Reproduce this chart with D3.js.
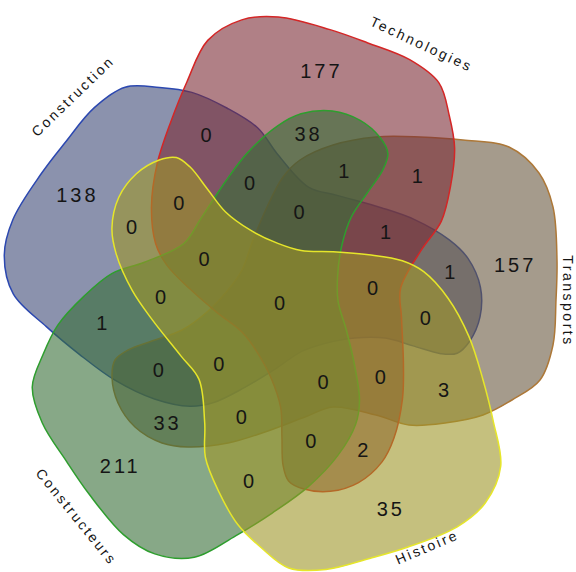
<!DOCTYPE html>
<html>
<head>
<meta charset="utf-8">
<script src="https://cdn.jsdelivr.net/npm/d3@7"></script>
<style>
  html, body { margin: 0; padding: 0; background: #fff; }
  svg { display: block; }
  .count { font-family: "Liberation Sans", Arial, sans-serif; font-size: 20px; letter-spacing: 3px; fill: #151515; }
  .title { font-family: "Liberation Sans", Arial, sans-serif; font-size: 14px; letter-spacing: 2.5px; fill: #151515; }
</style>
</head>
<body>
<svg id="venn"></svg>
<script>
const WIDTH = 576;
const HEIGHT = 572;
const CX = 285;
const CY = 301;

// sets, clockwise around the diagram
const setNames = ["Construction", "Technologies", "Transports", "Histoire", "Constructeurs"];

// region counts, k = first set of the group (clockwise)
const onlyCounts = [138, 177, 157, 35, 211];   // k alone
const nextPairCounts = [0, 1, 3, 0, 1];        // k & k+1
const skipPairCounts = [1, 2, 33, 0, 38];      // k & k+2
const nextTripleCounts = [1, 0, 0, 0, 0];      // k, k+1, k+2
const skipTripleCounts = [0, 1, 0, 0, 0];      // k, k+1, k+3
const quadCounts = [0, 0, 0, 0, 0];            // every set but k
const allCount = 0;

const fillColors = ["#3e4976", "#7b2b35", "#69583f", "#9e9628", "#376e37"];
const strokeColors = ["#2c48b0", "#d42626", "#ad7838", "#e6e62a", "#2e9e2e"];
const FILL_OPACITY = 0.6;
const drawOrder = [0, 2, 1, 4, 3];

// outline of one set (the one at index 2), relative to the centre;
// the others are the same blob turned by 72 degree steps
const blob = [
  [15, -141], [48, -156], [91, -164], [135, -164], [178, -161], [224, -154],
  [254, -128], [268, -94], [272, -41], [271, -1], [268, 44], [255, 79],
  [227, 99], [198, 114], [160, 122], [124, 124], [91, 114], [48, 106],
  [20, 116], [-23, 132], [-57, 142], [-97, 146], [-123, 142], [-150, 126],
  [-167, 102], [-173, 76], [-170, 59], [-157, 49], [-130, 39], [-103, 29],
  [-78, 11], [-57, -11], [-43, -31], [-32, -61], [-18, -94], [-2, -124]
];
const BLOB_SET = 2;

// where each kind of region puts its number, for k = 0 (angle deg, radius)
const labelLayout = [
  { counts: onlyCounts, angle: -153, r: 233 },
  { counts: nextPairCounts, angle: -115, r: 183 },
  { counts: skipPairCounts, angle: -10, r: 169 },
  { counts: nextTripleCounts, angle: -34, r: 123 },
  { counts: skipTripleCounts, angle: -137, r: 143 },
  { counts: quadCounts, angle: 64, r: 90 }
];

// set titles around the outside: angle deg, radius, text rotation
const titleLayout = [[-136, 295, -44], [-62, 291, 25], [0, 283, 90], [60, 284, -23], [134, 300, 51]];

const svg = d3.select("#venn")
  .attr("width", WIDTH)
  .attr("height", HEIGHT)
  .attr("viewBox", [0, 0, WIDTH, HEIGHT]);

const line = d3.line().curve(d3.curveCatmullRomClosed.alpha(0.5));
const rad = d => d * Math.PI / 180;

const gShapes = svg.append("g").attr("transform", `translate(${CX},${CY})`);
gShapes.selectAll("path")
  .data(drawOrder)
  .join("path")
  .attr("d", line(blob))
  .attr("transform", k => `rotate(${(k - BLOB_SET) * 72})`)
  .attr("fill", k => fillColors[k])
  .attr("fill-opacity", FILL_OPACITY)
  .attr("stroke", k => strokeColors[k])
  .attr("stroke-width", 1.5)
  .attr("stroke-linejoin", "round");

// count labels
const labels = [];
labelLayout.forEach(lay => {
  lay.counts.forEach((v, k) => {
    const a = rad(lay.angle + 72 * k);
    labels.push({ v, x: CX + lay.r * Math.cos(a), y: CY + lay.r * Math.sin(a) });
  });
});
labels.push({ v: allCount, x: CX - 4, y: CY + 2 });

svg.append("g")
  .selectAll("text")
  .data(labels)
  .join("text")
  .attr("class", "count")
  .attr("x", d => d.x)
  .attr("y", d => d.y)
  .attr("text-anchor", "middle")
  .attr("dominant-baseline", "central")
  .text(d => d.v);

// set names
svg.append("g")
  .selectAll("text")
  .data(setNames)
  .join("text")
  .attr("class", "title")
  .attr("text-anchor", "middle")
  .attr("dominant-baseline", "central")
  .attr("transform", (d, i) => {
    const [ang, r, rot] = titleLayout[i];
    const x = CX + r * Math.cos(rad(ang));
    const y = CY + r * Math.sin(rad(ang));
    return `translate(${x},${y}) rotate(${rot})`;
  })
  .text(d => d);
</script>
</body>
</html>
